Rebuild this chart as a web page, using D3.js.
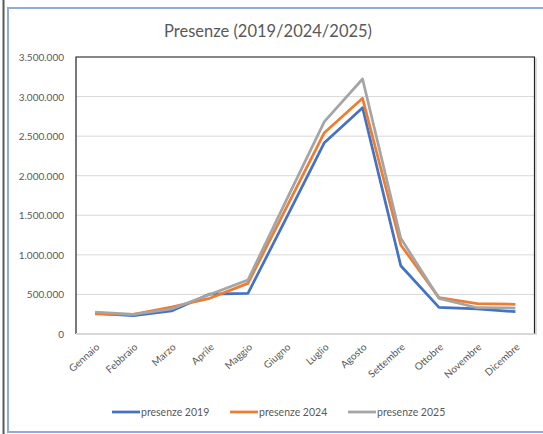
<!DOCTYPE html>
<html><head><meta charset="utf-8">
<script src="https://cdn.jsdelivr.net/npm/d3@7/dist/d3.min.js"></script>
<style>body{margin:0;background:#fff}svg{display:block}</style>
</head><body>
<script>
const months = ["Gennaio","Febbraio","Marzo","Aprile","Maggio","Giugno","Luglio","Agosto","Settembre","Ottobre","Novembre","Dicembre"];
const presenze2019 = [262000,231000,291000,505000,514000,1460000,2417000,2859000,863000,337000,316000,282000];
const presenze2024 = [253000,249000,341000,451000,640000,1590000,2544000,2978000,1125000,459000,383000,375000];
const presenze2025 = [278000,247000,316000,500000,682000,1685000,2683000,3222000,1209000,451000,332000,328000];
const seriesNames = ["presenze 2019","presenze 2024","presenze 2025"];
const colors = ["#4472C4","#ED7D31","#A5A5A5"];
const yTicks = [0,500000,1000000,1500000,2000000,2500000,3000000,3500000];
const title = "Presenze (2019/2024/2025)";

const W=543,H=434;
const svg=d3.select("body").append("svg").attr("width",W).attr("height",H);
const font="Lato, 'Open Sans', sans-serif";

// outer frames
svg.append("line").attr("x1",3.5).attr("x2",3.5).attr("y1",0).attr("y2",H).attr("stroke","#595959").attr("stroke-width",2);
svg.append("rect").attr("x",8).attr("y",8).attr("width",W+10).attr("height",424).attr("fill","none").attr("stroke","#8FAADC").attr("stroke-width",2);

const L=76,R=534.5,T=57,B=334;
const x=d3.scaleBand().domain(months).range([L,R]);
const y=d3.scaleLinear().domain([0,3500000]).range([B,T]);

svg.append("text").attr("x",268).attr("y",37).attr("text-anchor","middle").attr("font-family",font).attr("font-size",16.5).attr("fill","#595959").text(title);

// gridlines
svg.append("g").selectAll("line").data(yTicks.slice(1)).join("line")
  .attr("x1",L).attr("x2",R).attr("y1",d=>y(d)).attr("y2",d=>y(d)).attr("stroke","#d9d9d9").attr("stroke-width",1);

// plot border
svg.append("path").attr("d",`M${L},${B}V${T}H${R}V${B}`).attr("fill","none").attr("stroke","#222").attr("stroke-width",1.2);
svg.append("line").attr("x1",R+1.5).attr("x2",R+1.5).attr("y1",T+1).attr("y2",B+1).attr("stroke","#bbb").attr("stroke-width",1);
svg.append("line").attr("x1",L).attr("x2",R).attr("y1",B).attr("y2",B).attr("stroke","#d9d9d9").attr("stroke-width",2);

// y axis labels
const fmt=d=>d3.format(",")(d).replace(/,/g,".");
const yAxis=d3.axisLeft(y).tickValues(yTicks).tickFormat(fmt).tickSize(0).tickPadding(12);
const gy=svg.append("g").attr("transform",`translate(${L},0)`).call(yAxis);
gy.select(".domain").remove();
gy.selectAll("text").attr("font-family",font).attr("font-size",10).attr("fill","#595959").attr("dy","0.35em");

// x axis labels
const xAxis=d3.axisBottom(x).tickSize(0);
const gx=svg.append("g").attr("transform",`translate(0,${B})`).call(xAxis);
gx.select(".domain").remove();
gx.selectAll("text").attr("font-family",font).attr("font-size",10).attr("fill","#595959")
  .attr("text-anchor","end").attr("dy",null).attr("y",0)
  .attr("transform","translate(5,14) rotate(-42)");

// lines
const data=[presenze2019,presenze2024,presenze2025];
const line=d3.line().x((d,i)=>x(months[i])+x.bandwidth()/2).y(d=>y(d)).curve(d3.curveLinear);
data.forEach((s,i)=>{
  svg.append("path").datum(s).attr("d",line).attr("fill","none").attr("stroke",colors[i]).attr("stroke-width",2.75).attr("stroke-linejoin","round");
});

// legend
const lx=[112,230,348];
const lg=svg.append("g");
seriesNames.forEach((n,i)=>{
  lg.append("line").attr("x1",lx[i]).attr("x2",lx[i]+28).attr("y1",412).attr("y2",412).attr("stroke",colors[i]).attr("stroke-width",2.75);
  lg.append("text").attr("x",lx[i]+29).attr("y",412).attr("dy","0.35em").attr("font-family",font).attr("font-size",10.5).attr("fill","#595959").text(n);
});
</script>
</body></html>
